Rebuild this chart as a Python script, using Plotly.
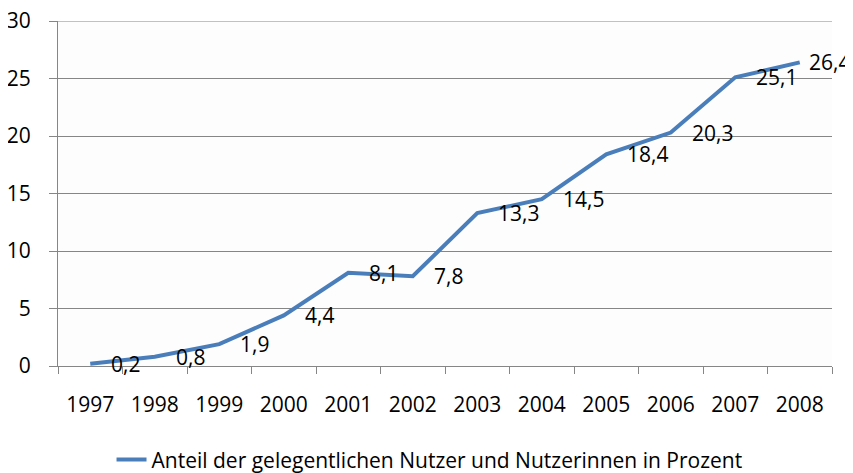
import plotly.graph_objects as go

years = ["1997", "1998", "1999", "2000", "2001", "2002", "2003", "2004", "2005", "2006", "2007", "2008"]
values = [0.2, 0.8, 1.9, 4.4, 8.1, 7.8, 13.3, 14.5, 18.4, 20.3, 25.1, 26.4]
series_name = "Anteil der gelegentlichen Nutzer und Nutzerinnen in Prozent"
y_ticks = [0, 5, 10, 15, 20, 25, 30]

FONT = "Open Sans"
FS = 21
LINE = "#4A7EBB"
GRID = "#868686"

fig = go.Figure()
fig.add_trace(go.Scatter(
    x=years, y=values, mode="lines", name=series_name,
    line=dict(color=LINE, width=4),
    showlegend=True, hoverinfo="skip",
))

# data labels to the right of each point (Excel style)
for i, v in enumerate(values):
    fig.add_annotation(
        x=i, y=v, xref="x", yref="y",
        text=f"{v:.1f}".replace(".", ","),
        showarrow=False, xanchor="left", yanchor="middle",
        xshift=(7 if i == len(values) - 1 else 19),
        font=dict(family=FONT, size=FS, color="#000"),
    )

# top gridline (plotly drops grid lines lying on the plot edge)
fig.add_shape(type="line", xref="paper", yref="y", x0=0, x1=1,
              y0=y_ticks[-1], y1=y_ticks[-1], line=dict(color=GRID, width=1))

# page body has an 8px margin, so the figure is sized to fit inside it
fig.update_layout(
    width=845, height=465,
    margin=dict(l=50, r=21, t=13, b=107, autoexpand=False),
    paper_bgcolor="white", plot_bgcolor="#FDFDFD",
    font=dict(family=FONT, size=FS, color="#000"),
    legend=dict(
        orientation="h", x=0.48, xanchor="center", y=-0.272, yanchor="middle",
        font=dict(family=FONT, size=FS, color="#000"),
        bgcolor="rgba(0,0,0,0)",
    ),
)
fig.update_xaxes(
    type="category", tickson="boundaries", ticks="outside", ticklen=7,
    tickcolor=GRID, showline=True, linecolor=GRID, linewidth=1,
    showgrid=False, ticklabelstandoff=20, range=[-0.5, 11.5], automargin=False,
    ticklabeloverflow="allow",
    tickfont=dict(family=FONT, size=FS, color="#000"),
)
fig.update_yaxes(
    range=[0, 30], tickvals=y_ticks, ticks="outside", ticklen=8,
    tickcolor=GRID, showline=True, linecolor=GRID, linewidth=1,
    showgrid=True, gridcolor=GRID, gridwidth=1, zeroline=False,
    ticklabelstandoff=14, automargin=False, ticklabeloverflow="allow",
    tickfont=dict(family=FONT, size=FS, color="#000"),
)

fig.write_html("out.html")
